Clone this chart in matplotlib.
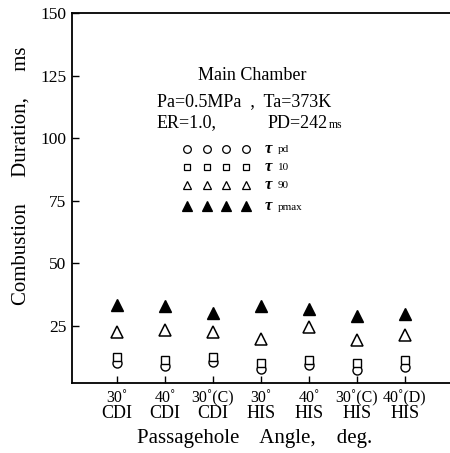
import matplotlib
matplotlib.use("Agg")
import matplotlib.pyplot as plt
import matplotlib.transforms as mtransforms
import numpy as np

angles = ["30˚", "40˚", "30˚(C)", "30˚", "40˚", "30˚(C)", "40˚(D)"]
systems = ["CDI", "CDI", "CDI", "HIS", "HIS", "HIS", "HIS"]
tau_pd = [10.1, 8.9, 10.3, 7.6, 9.3, 7.3, 8.4]
tau_10 = [12.5, 11.3, 12.5, 10.0, 11.3, 10.0, 11.3]
tau_90 = [22.6, 23.4, 22.3, 19.7, 24.3, 19.4, 21.4]
tau_pmax = [33.4, 33.0, 30.1, 32.7, 31.7, 28.7, 29.7]
yticks = [25, 50, 75, 100, 125, 150]

plt.rcParams['font.family'] = ['Liberation Serif', 'DejaVu Serif']
fig = plt.figure(figsize=(4.5, 4.53), dpi=100)
ax = fig.add_axes([0.16, 0.1545, 0.84, 0.8165])

x = np.arange(len(angles))
ax.plot(x, tau_pd, 'o', mfc='white', mec='black', ms=6.5, mew=1.0, ls='none')
ax.plot(x, tau_10, 's', mfc='white', mec='black', ms=5.5, mew=1.0, ls='none')
ax.plot(x, tau_90, '^', mfc='white', mec='black', ms=8.5, mew=1.1, ls='none')
ax.plot(x, tau_pmax, '^', mfc='black', mec='black', ms=8.5, ls='none')

ax.set_xlim(-0.94, 6.94)
ax.set_ylim(2, 150)
ax.set_yticks(yticks)
ax.set_yticklabels([str(v) for v in yticks], fontsize=12.5)
ax.set_xticks(x)
ax.set_xticklabels(angles, fontsize=11.5)
ax.tick_params(axis='both', direction='in', length=5, width=1.0)
ax.tick_params(axis='x', pad=5)
ax.tick_params(axis='y', pad=4)
ax.spines['right'].set_visible(False)
for s in ['left', 'bottom', 'top']:
    ax.spines[s].set_linewidth(1.3)

W, H = 450, 453
trans = mtransforms.blended_transform_factory(ax.transData, fig.transFigure)
for xi, s in zip(x, systems):
    ax.text(xi, 1 - 414 / H, s, transform=trans, fontsize=13, ha='center', va='center')

def ft(px, py, s, **kw):
    fig.text(px / W, 1 - py / H, s, **kw)

# axis labels
ft(255, 438, "Passagehole    Angle,    deg.", fontsize=15, ha='center', va='center')
ft(21, 176, "Combustion     Duration,     ms", fontsize=15, ha='center', va='center', rotation=90)

# annotation block
ft(252, 75, "Main Chamber", fontsize=13, ha='center', va='center')
ft(157, 102, "Pa=0.5MPa  ,  Ta=373K", fontsize=13, ha='left', va='center')
ft(157, 123, "ER=1.0,", fontsize=13, ha='left', va='center')
ft(268, 123, "PD=242", fontsize=13, ha='left', va='center')
ft(329, 125, "ms", fontsize=8.5, ha='left', va='center')

cols = [187, 207, 226, 246]
rows = [149, 167, 185, 206]
styles = [('o', 'white', 5.5), ('s', 'white', 5), ('^', 'white', 6), ('^', 'black', 6.5)]
labels = ["pd", "10", "90", "pmax"]
for (mk, fc, sz), ry, lb in zip(styles, rows, labels):
    for cx in cols:
        fig.lines.append(plt.Line2D([cx / W], [1 - ry / H], marker=mk, mfc=fc, mec='black',
                                    ms=sz, mew=0.9, ls='none', transform=fig.transFigure))
    ft(265, ry, "τ", fontsize=12, ha='left', va='center', fontweight='bold', fontstyle='italic')
    ft(278, ry + 1, lb, fontsize=8, ha='left', va='center')

fig.savefig("out.png", dpi=100)
